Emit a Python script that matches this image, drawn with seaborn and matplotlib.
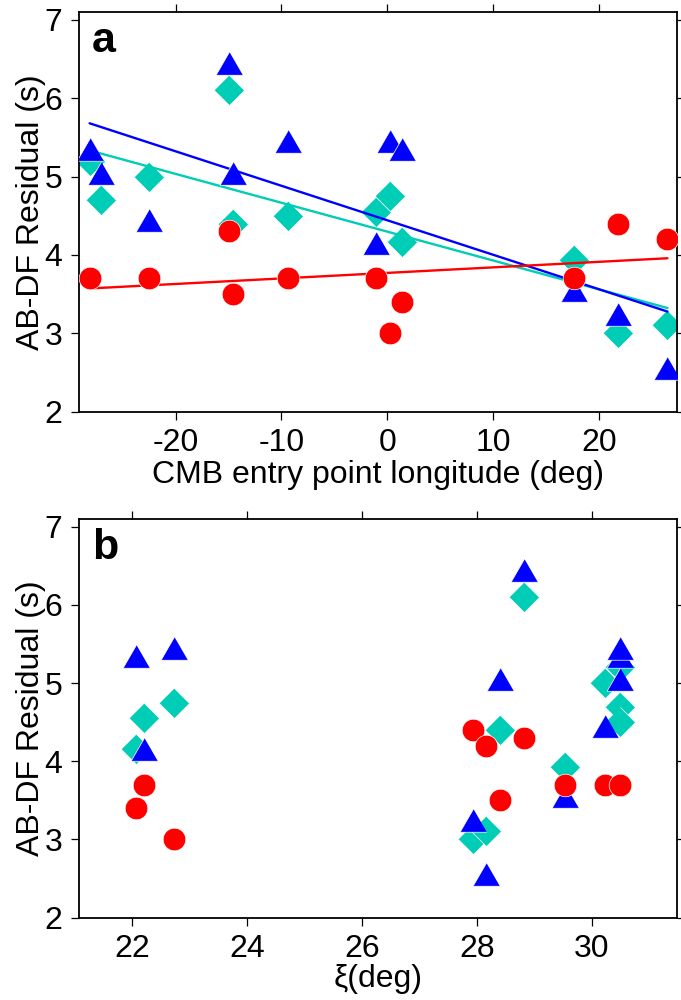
import numpy as np
import pandas as pd
import matplotlib
matplotlib.use("Agg")
import matplotlib.pyplot as plt
import seaborn as sns

# ---------------- data ----------------
lon = [-28.15, -27.1, -22.5, -15.0, -14.6, -9.35, -1.05, 0.27, 1.38, 17.7, 21.8, 26.5]
xi = [30.48, 30.48, 30.22, 28.82, 28.40, 30.48, 22.20, 22.73, 22.07, 29.53, 27.93, 28.15]
tri_vals = [5.3, 5.0, 4.4, 6.4, 5.0, 5.4, 4.1, 5.4, 5.3, 3.5, 3.2, 2.5]
dia_vals = [5.2, 4.7, 5.0, 6.1, 4.4, 4.5, 4.55, 4.75, 4.16, 3.93, 3.0, 3.11]
circ_vals = [3.7, np.nan, 3.7, 4.3, 3.5, 3.7, 3.7, 3.0, 3.4, 3.7, 4.4, 4.2]

xticks_a = [-20, -10, 0, 10, 20]
xticks_b = [22, 24, 26, 28, 30]
yticks = [2, 3, 4, 5, 6, 7]

BLUE = "#0000FF"
TEAL = "#00CDB5"
RED = "#FF0000"

df = pd.DataFrame({"lon": lon, "xi": xi, "tri": tri_vals, "dia": dia_vals, "circ": circ_vals})

sns.set_theme(style="white")
plt.rcParams["font.family"] = ["Liberation Sans", "DejaVu Sans"]
plt.rcParams["axes.unicode_minus"] = False
plt.rcParams["text.color"] = "black"
plt.rcParams["axes.labelcolor"] = "black"
plt.rcParams["xtick.color"] = "black"
plt.rcParams["ytick.color"] = "black"

# triangle centred on its centroid, diamond
TRI = [(0.0, 1.0), (-0.8660254, -0.5), (0.8660254, -0.5)]
DIA = [(0.0, 1.0), (1.0, 0.0), (0.0, -1.0), (-1.0, 0.0)]

fig = plt.figure(figsize=(6.81, 10), dpi=100)
ax1 = fig.add_axes([0.1160, 0.5885, 0.8781, 0.3995])
ax2 = fig.add_axes([0.1160, 0.0825, 0.8781, 0.3985])

FS = 23


def style_axes(ax, xlim, xticks):
    ax.set_xlim(*xlim)
    ax.set_ylim(2, 7.1)
    ax.set_xticks(xticks)
    ax.set_yticks(yticks)
    for s in ax.spines.values():
        s.set_visible(True)
        s.set_linewidth(1.3)
        s.set_color("black")
    ax.tick_params(axis="both", which="major", direction="out", length=6, width=0.9,
                   color="black", labelcolor="black", labelsize=FS, pad=6,
                   top=True, right=True, bottom=True, left=True,
                   labeltop=False, labelright=False)
    ax.set_ylabel("AB-DF Residual (s)", fontsize=FS, labelpad=-1, color="black")
    ax.grid(False)


def draw(ax, xcol, fit):
    sns.scatterplot(data=df, x=xcol, y="dia", marker=DIA, s=470, color=TEAL,
                    edgecolor="white", linewidth=0.5, ax=ax, zorder=2, legend=False)
    if fit:
        sns.regplot(data=df, x=xcol, y="dia", scatter=False, ci=None, color=TEAL,
                    line_kws={"lw": 1.7, "zorder": 3}, ax=ax)
        sns.regplot(data=df, x=xcol, y="tri", scatter=False, ci=None, color=BLUE,
                    line_kws={"lw": 1.7, "zorder": 3.1}, ax=ax)
        sns.regplot(data=df, x=xcol, y="circ", scatter=False, ci=None, color=RED,
                    line_kws={"lw": 1.7, "zorder": 3.2}, ax=ax)
    sns.scatterplot(data=df, x=xcol, y="tri", marker=TRI, s=495, color=BLUE,
                    edgecolor="white", linewidth=0.5, ax=ax, zorder=4, legend=False)
    sns.scatterplot(data=df, x=xcol, y="circ", marker="o", s=265, color=RED,
                    edgecolor="white", linewidth=0.5, ax=ax, zorder=5, legend=False)


draw(ax1, "lon", True)
style_axes(ax1, (-29.15, 27.4), xticks_a)
ax1.set_xlabel("CMB entry point longitude (deg)", fontsize=FS, labelpad=1, color="black")
ax1.text(0.022, 0.90, "a", transform=ax1.transAxes, fontsize=31, fontweight="bold",
         ha="left", va="baseline", color="black")

draw(ax2, "xi", False)
style_axes(ax2, (21.07, 31.48), xticks_b)
ax2.set_xlabel("ξ(deg)", fontsize=FS, labelpad=0, color="black")
ax2.text(0.022, 0.90, "b", transform=ax2.transAxes, fontsize=31, fontweight="bold",
         ha="left", va="baseline", color="black")

fig.savefig("out.png", dpi=100)
